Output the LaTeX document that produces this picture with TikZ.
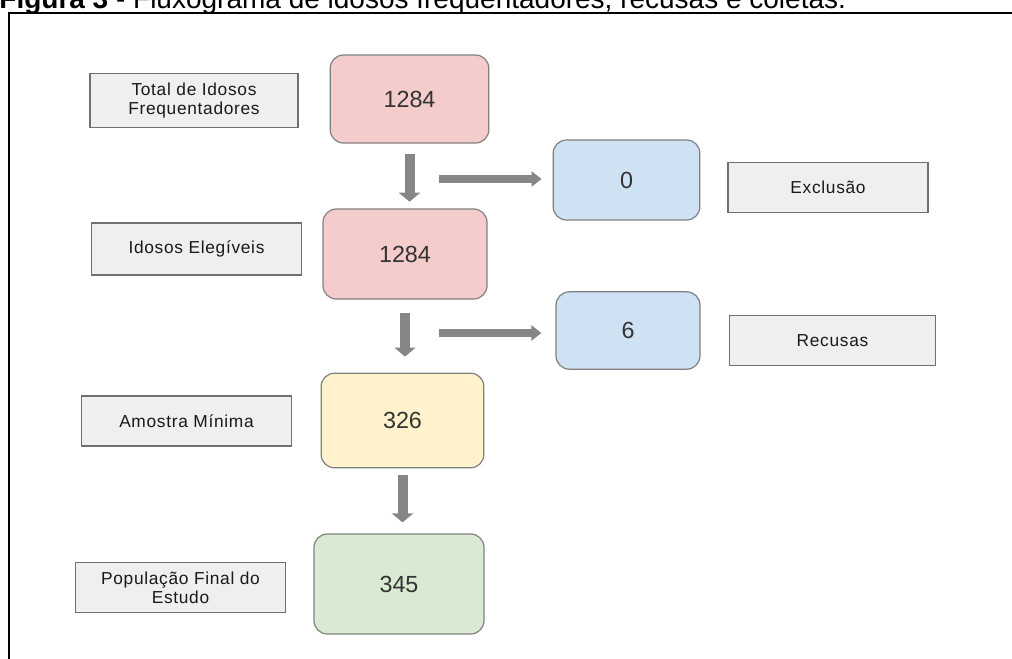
\documentclass[tikz,border=0pt]{standalone}
\usepackage{fontspec}
\setmainfont{Liberation Sans}
\newfontfamily\lblfont[LetterSpace=4]{Liberation Sans}
\usepackage{tikz}
\usetikzlibrary{arrows.meta}

\definecolor{cntred}{HTML}{F4CCCC}
\definecolor{cntblue}{HTML}{CFE2F3}
\definecolor{cntyellow}{HTML}{FFF2CC}
\definecolor{cntgreen}{HTML}{D9EAD3}
\definecolor{lblfill}{HTML}{EFEFEF}
\definecolor{lblline}{HTML}{707070}
\definecolor{cntline}{HTML}{808080}
\definecolor{arrgray}{HTML}{868686}

\begin{document}
\begin{tikzpicture}[x=0.75pt,y=-0.75pt,semithick]
        \tikzstyle{countnode}=[
            rectangle,
            rounded corners=10pt,
            draw=cntline,
            line width=0.9pt,
            inner sep=0pt,
            text=black!80,
            font=\fontsize{17.5}{20}\selectfont
        ]
        \tikzstyle{labelnode}=[
            rectangle,
            draw=lblline,
            line width=0.9pt,
            fill=lblfill,
            inner sep=0pt,
            align=center,
            text=black!90,
            font=\lblfont\fontsize{13}{14.5}\selectfont
        ]
        \tikzstyle{downarrow}=[
            draw=arrgray,
            line width=7.5pt,
            -{Triangle[length=6.75pt,width=15.75pt]}
        ]
        \tikzstyle{sidearrow}=[
            draw=arrgray,
            line width=6pt,
            -{Triangle[length=7.5pt,width=11.25pt]}
        ]

        \useasboundingbox (0,0) rectangle (1012,658);

        % title cut off at the top and the frame
        \node[anchor=base west, inner sep=0pt, font=\fontsize{21}{25}\selectfont] (title) at (-1,8)
            {\textbf{Figura 3} - Fluxograma de idosos frequentadores, recusas e coletas.};
        \draw[line width=2pt] (9,680) -- (9,13) -- (1030,13);

        % counts
        \node[countnode, fill=cntred, minimum width=119pt, minimum height=66pt] (total) at (409.5,99){1284};
        \node[countnode, fill=cntred, minimum width=123pt, minimum height=67.5pt] (eleg) at (405,254){1284};
        \node[countnode, fill=cntblue, minimum width=110pt, minimum height=60pt] (excl) at (626.5,180){0};
        \node[countnode, fill=cntblue, minimum width=108pt, minimum height=58pt] (recu) at (628,330.5){6};
        \node[countnode, fill=cntyellow, minimum width=122pt, minimum height=71pt] (amos) at (402.5,420.5){326};
        \node[countnode, fill=cntgreen, minimum width=127.5pt, minimum height=75pt] (final) at (399,584){345};

        % labels
        \node[labelnode, minimum width=156pt, minimum height=40pt] (ltotal) at (194,100.5){Total de Idosos\\Frequentadores};
        \node[labelnode, minimum width=157pt, minimum height=39pt] (leleg) at (196.5,249){Idosos Elegíveis};
        \node[labelnode, minimum width=150pt, minimum height=37pt] (lexcl) at (828,187.5){Exclusão};
        \node[labelnode, minimum width=154pt, minimum height=38pt] (lrecu) at (832.5,340.5){Recusas};
        \node[labelnode, minimum width=157pt, minimum height=37.5pt] (lamos) at (186.5,421){Amostra Mínima};
        \node[labelnode, minimum width=157pt, minimum height=38pt] (lfinal) at (180.5,587.5){População Final do\\Estudo};

        \coordinate (sexcl) at (439,179);
        \coordinate (srecu) at (439,333);

        \draw[downarrow, shorten <=7.5pt, shorten >=5pt] (total.south) -- (total.south |- eleg.north);
        \draw[downarrow, shorten <=9.75pt, shorten >=12pt] (eleg.south) -- (eleg.south |- amos.north);
        \draw[downarrow, shorten <=5.25pt, shorten >=8.25pt] (amos.south) -- (amos.south |- final.north);
        \draw[sidearrow, shorten >=8.25pt] (sexcl) -- (sexcl -| excl.west);
        \draw[sidearrow, shorten >=10.5pt] (srecu) -- (srecu -| recu.west);

    \end{tikzpicture}
\end{document}
